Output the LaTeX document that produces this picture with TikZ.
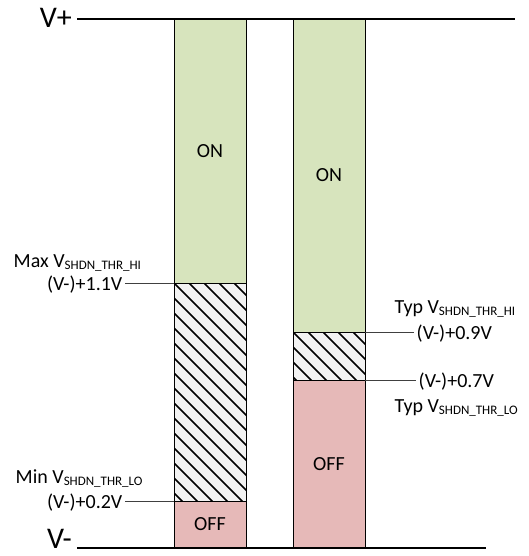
\documentclass[tikz,border=0pt]{standalone}
\usepackage{fontspec}
\setmainfont{Carlito}
\definecolor{ongreen}{HTML}{D7E4BD}
\definecolor{offpink}{HTML}{E6B9B8}
\definecolor{hatchbg}{HTML}{F2F2F2}
\definecolor{tickgray}{HTML}{404040}
\newcommand\vsubscr[1]{V{\fontsize{13}{13}\selectfont\raisebox{-2.5pt}{#1}}}
\begin{document}
\begin{tikzpicture}[x=1pt,y=-1pt,
  seg/.style={draw=black, line width=1pt, inner sep=0pt, outer sep=0pt,
    minimum width=72pt, font=\fontsize{20}{24}\selectfont},
  onseg/.style={seg, fill=ongreen},
  offseg/.style={seg, fill=offpink},
  hatchseg/.style={seg, fill=hatchbg,
    path picture={\foreach \k in {-17,...,5}{
      \draw[line width=1.5pt, black]
        ([xshift=\k*15pt]path picture bounding box.north west) -- ++(260pt,-260pt);}}},
  rail/.style={line width=2.2pt, black},
  railtext/.style={font=\fontsize{30}{34}\selectfont, inner sep=0pt},
  lbl/.style={font=\fontsize{20}{24}\selectfont, inner sep=2.5pt},
  tick/.style={line width=1pt, tickgray}
]
\useasboundingbox (0,0) rectangle (528,556);

% rails
\coordinate (vpL) at (77,19);
\coordinate (vpR) at (515,19);
\coordinate (vmL) at (77,548);
\coordinate (vmR) at (486,548);

% left column
\node[onseg, minimum height=264pt] (lon) at (210,151) {ON};
\node[hatchseg, minimum height=218pt] (lhatch) at (210,392) {};
\node[offseg, minimum height=47pt] (loff) at (210,524.5) {OFF};

% right column
\node[onseg, minimum height=313pt] (ron) at (329,175.5) {ON};
\node[hatchseg, minimum height=48pt] (rhatch) at (329,356) {};
\node[offseg, minimum height=168pt] (roff) at (329,464) {OFF};

\draw[rail] (vpL) -- (vpR);
\draw[rail] (vmL) -- (vmR);
\node[railtext, anchor=east] (vplus) at (72,18) {V+};
\node[railtext, anchor=east] (vminus) at (72,539) {V-};

% left labels
\node[lbl, anchor=base west] (lmaxname) at (11,267) {Max \vsubscr{SHDN\_THR\_HI}};
\node[lbl, anchor=base east] (lmaxval) at (125,290) {(V-)+1.1V};
\node[lbl, anchor=base west] (lminname) at (13,483) {Min \vsubscr{SHDN\_THR\_LO}};
\node[lbl, anchor=base east] (lminval) at (125,508) {(V-)+0.2V};
\draw[tick] (lmaxval.east |- lhatch.north west) -- (lhatch.north west);
\draw[tick] (lminval.east |- lhatch.south west) -- (lhatch.south west);

% right labels
\node[lbl, anchor=base west] (rhiname) at (392,313) {Typ \vsubscr{SHDN\_THR\_HI}};
\node[lbl, anchor=base west] (rhival) at (414,339) {(V-)+0.9V};
\node[lbl, anchor=base west] (rloval) at (416,387) {(V-)+0.7V};
\node[lbl, anchor=base west] (rloname) at (392,412) {Typ \vsubscr{SHDN\_THR\_LO}};
\draw[tick] (rhatch.north east) -- (rhival.west |- rhatch.north east);
\draw[tick] (rhatch.south east) -- (rloval.west |- rhatch.south east);
\end{tikzpicture}
\end{document}
